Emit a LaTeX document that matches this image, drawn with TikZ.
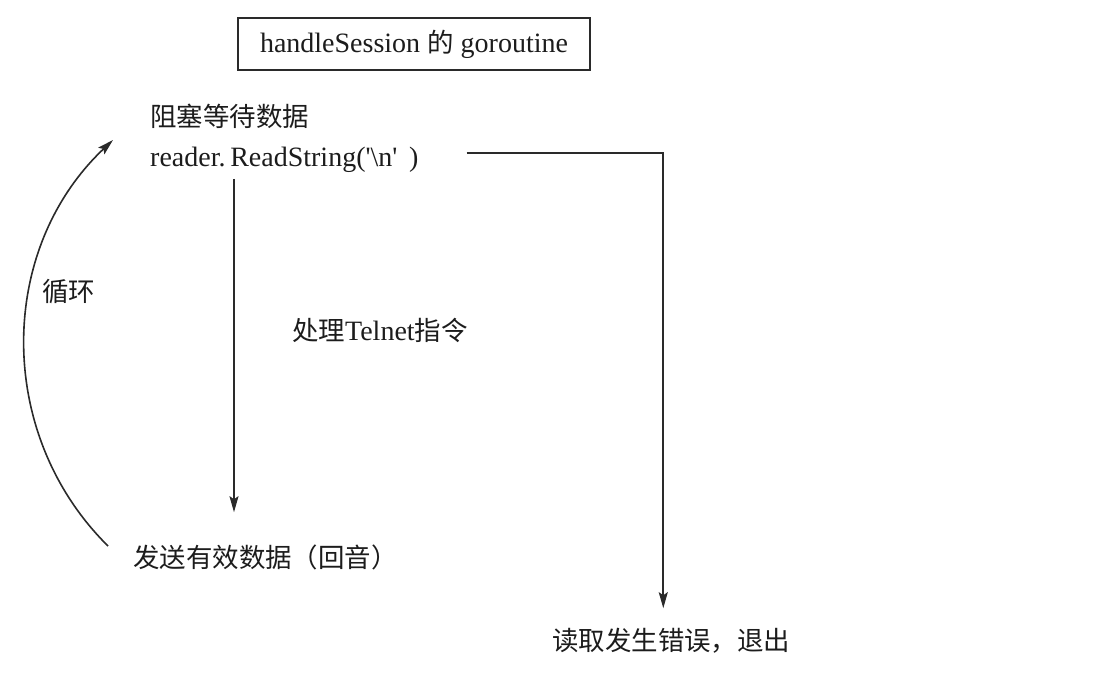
\documentclass[tikz,border=0pt]{standalone}
\usepackage{fontspec}
\setmainfont{Liberation Serif}
\newfontfamily\cjk[Scale=0.945]{Noto Sans CJK SC}
\usepackage{tikz}
\usetikzlibrary{positioning, arrows.meta, calc}
\definecolor{inkgray}{HTML}{1C1C1C}
\definecolor{linegray}{HTML}{2A2A2A}
\tikzset{
  titlebox/.style={draw=linegray, line width=1.5pt, minimum width=352pt,
                   minimum height=52pt, inner sep=0pt, text=inkgray},
  lbl/.style={anchor=west, inner sep=0pt, text=inkgray},
  flow/.style={draw=linegray, line width=1.6pt,
               -{Stealth[length=16pt, width=9pt, inset=3pt]}},
}

\begin{document}
\begin{tikzpicture}[x=1pt, y=1pt, font=\fontsize{28}{33}\selectfont]
  \useasboundingbox (0,0) rectangle (1105,-675);
  \node[titlebox] (title) at (414,-44) {handleSession {\cjk 的} goroutine};
  % the loop body
  \node[lbl] (wait) at (150,-116) {\cjk 阻塞等待数据};
  \node[lbl] (read) at (150,-160) {reader.\,ReadString(\textquotesingle\textbackslash n\textquotesingle\ \,)};
  \node[lbl] (proc) at (292,-330) {{\cjk 处理}Telnet{\cjk 指令}};
  \node[lbl] (send) at (133,-557) {\cjk 发送有效数据（回音）};
  \node[lbl] (err) at (552,-641) {\cjk 读取发生错误，退出};
  \node[lbl] (loop) at (42,-292) {\cjk 循环};

  \draw[flow] ([xshift=84pt, yshift=-6pt]read.south west)
    -- ([xshift=101pt, yshift=32pt]send.north west);
  \draw[flow] ([xshift=-25pt, yshift=11pt]send.west)
    to[bend left=46] ([xshift=-37pt, yshift=-24pt]wait.west);
  \draw[flow, line width=2pt] ([xshift=48pt, yshift=7pt]read.east)
    -| ([xshift=-8pt, yshift=20pt]err.north);
\end{tikzpicture}
\end{document}
